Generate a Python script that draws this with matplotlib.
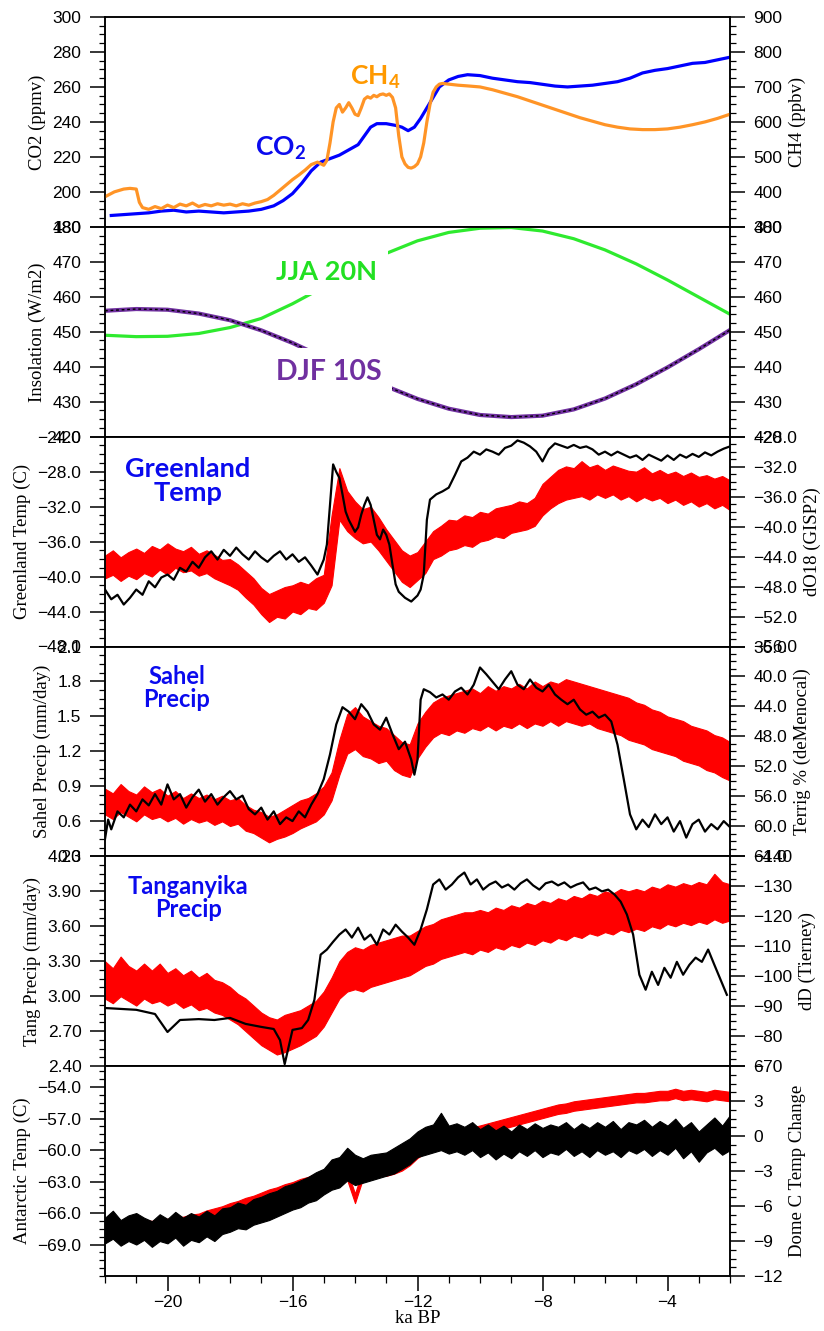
import numpy as np
import matplotlib
matplotlib.use("Agg")
import matplotlib.pyplot as plt
from matplotlib.ticker import FixedLocator, MultipleLocator, FuncFormatter

# ---------------- DATA ----------------
# Panel 1: CO2 (ppmv) and CH4 (ppbv)
co2_age = [-21.8, -21.4, -21.0, -20.6, -20.2, -19.8, -19.4, -19.0, -18.6, -18.2, -17.8, -17.4,
           -17.0, -16.6, -16.3, -16.0, -15.7, -15.4, -15.1, -14.8, -14.5, -14.2, -13.9, -13.7,
           -13.5, -13.3, -13.0, -12.7, -12.5, -12.3, -12.1, -11.9, -11.7, -11.5, -11.3, -11.0,
           -10.7, -10.4, -10.0, -9.6, -9.2, -8.8, -8.4, -8.0, -7.6, -7.2, -6.8, -6.4, -6.0,
           -5.6, -5.2, -4.8, -4.4, -4.0, -3.6, -3.2, -2.8, -2.4, -2.0]
co2_val = [186.5, 187, 187.5, 188, 189, 189.5, 188.5, 189, 188.5, 188, 188.5, 189,
           190, 192, 195, 199, 205, 212, 217, 219, 221, 224, 227, 232,
           237, 239, 239, 238, 237, 235, 237, 242, 248, 254, 260, 264,
           266, 267, 266.5, 265, 264, 263, 262.5, 261.5, 260.5, 260, 260.5, 261, 262,
           263, 265, 268, 269.5, 270.5, 272, 273.5, 274, 275.5, 277]
ch4_age = [-22.0, -21.7, -21.4, -21.2, -21.0, -20.9, -20.8, -20.6, -20.4, -20.2, -20.0, -19.8,
           -19.6, -19.4, -19.2, -19.0, -18.8, -18.6, -18.4, -18.2, -18.0, -17.8, -17.6, -17.4,
           -17.2, -17.0, -16.8, -16.6, -16.4, -16.2, -16.0, -15.8, -15.6, -15.4, -15.2, -15.0,
           -14.9, -14.8, -14.7, -14.6, -14.5, -14.4, -14.3, -14.2, -14.1, -14.0, -13.9, -13.8,
           -13.7, -13.6, -13.5, -13.4, -13.3, -13.2, -13.1, -13.0, -12.9, -12.8, -12.7, -12.6,
           -12.5, -12.4, -12.3, -12.2, -12.1, -12.0, -11.9, -11.8, -11.7, -11.6, -11.5, -11.4,
           -11.3, -11.2, -11.0, -10.7, -10.4, -10.0, -9.6, -9.2, -8.8, -8.4, -8.0, -7.6, -7.2,
           -6.8, -6.4, -6.0, -5.6, -5.2, -4.8, -4.4, -4.0, -3.6, -3.2, -2.8, -2.4, -2.0]
ch4_val = [386, 400, 408, 410, 408, 370, 355, 350, 358, 352, 362, 355,
           365, 360, 368, 358, 364, 360, 366, 362, 365, 360, 366, 362,
           368, 372, 378, 390, 405, 420, 435, 448, 462, 478, 485, 476,
           490, 540, 600, 640, 650, 628, 640, 655, 640, 622, 618, 640,
           665, 672, 668, 676, 672, 678, 680, 676, 680, 670, 640, 560,
           500, 480, 470, 468, 472, 480, 500, 540, 600, 650, 685, 700,
           708, 710, 708, 705, 703, 700, 692, 682, 672, 660, 648, 636, 624,
           612, 602, 592, 585, 580, 578, 578, 580, 585, 592, 600, 610, 622]

# Panel 2: insolation (W/m2)
insol_age = [-22, -21, -20, -19, -18, -17, -16, -15, -14, -13, -12, -11, -10, -9, -8, -7, -6, -5, -4, -3, -2]
jja20n = [449.0, 448.6, 448.7, 449.5, 451.2, 453.8, 458.0, 462.8, 467.8, 472.4, 476.0, 478.4,
          479.6, 479.8, 478.8, 476.6, 473.4, 469.4, 464.8, 459.9, 455.0]
djf10s = [456.0, 456.5, 456.3, 455.2, 453.3, 450.4, 446.8, 442.6, 438.4, 434.4, 430.8, 428.0,
          426.2, 425.6, 426.0, 427.8, 430.9, 435.0, 439.8, 445.0, 450.5]

# Model series (noisy bands) on a 0.25 ka grid, -22 ... -2
band_age = np.arange(-22.0, -1.999, 0.25)

greenland_lo = [-40.2, -39.8, -40.5, -39.9, -40.3, -39.6, -40.0, -39.2, -39.8, -39.0, -39.5, -39.3,
                -39.9, -39.6, -40.2, -40.6, -41.0, -41.5, -42.4, -43.2, -44.3, -45.2, -44.6, -44.8,
                -44.0, -44.3, -43.6, -43.8, -43.0, -41.0, -33.5, -34.8, -35.6, -36.2, -36.0, -37.0,
                -38.2, -39.4, -40.6, -41.2, -40.4, -39.6, -38.0, -37.6, -37.0, -36.8, -36.4, -36.6,
                -36.0, -35.8, -35.4, -35.6, -35.0, -34.8, -34.6, -34.2, -33.0, -32.2, -31.6, -31.2,
                -31.0, -30.8, -31.2, -30.6, -31.0, -30.6, -31.2, -30.8, -31.4, -30.9, -31.3, -31.0,
                -31.6, -31.2, -31.8, -31.4, -32.0, -31.6, -32.2, -31.8, -32.4]
greenland_hi = [-37.6, -37.0, -37.8, -37.2, -36.8, -37.3, -36.5, -36.9, -36.2, -36.8, -37.1, -36.6,
                -37.4, -37.0, -37.5, -38.1, -38.0, -38.6, -39.4, -40.2, -41.3, -42.0, -41.6, -41.2,
                -41.0, -40.6, -40.9, -40.2, -39.8, -33.0, -27.6, -30.2, -31.4, -32.3, -32.0, -33.2,
                -34.6, -35.8, -37.0, -37.6, -37.2, -36.0, -34.8, -34.2, -33.5, -33.6, -33.0, -33.2,
                -32.6, -32.8, -32.2, -32.0, -31.8, -31.4, -31.6, -31.0, -29.4, -28.6, -27.8, -27.4,
                -27.6, -26.8, -27.5, -27.2, -27.8, -27.3, -27.6, -27.9, -28.0, -27.5, -28.2, -27.8,
                -28.3, -28.0, -28.5, -28.1, -28.6, -28.4, -28.8, -28.5, -29.0]

sahel_lo = [0.66, 0.62, 0.68, 0.64, 0.60, 0.66, 0.62, 0.64, 0.60, 0.63, 0.58, 0.62,
            0.59, 0.61, 0.57, 0.60, 0.56, 0.58, 0.52, 0.50, 0.46, 0.42, 0.45, 0.47,
            0.50, 0.54, 0.57, 0.60, 0.66, 0.78, 1.00, 1.18, 1.22, 1.16, 1.14, 1.10,
            1.12, 1.04, 1.00, 0.98, 1.14, 1.24, 1.32, 1.36, 1.34, 1.38, 1.36, 1.40,
            1.38, 1.42, 1.38, 1.42, 1.40, 1.44, 1.40, 1.44, 1.42, 1.46, 1.42, 1.46,
            1.44, 1.42, 1.44, 1.40, 1.38, 1.36, 1.34, 1.30, 1.28, 1.26, 1.22, 1.20,
            1.18, 1.16, 1.12, 1.10, 1.08, 1.04, 1.02, 0.98, 0.95]
sahel_hi = [0.88, 0.84, 0.92, 0.86, 0.83, 0.90, 0.85, 0.88, 0.82, 0.86, 0.80, 0.84,
            0.80, 0.83, 0.79, 0.82, 0.78, 0.80, 0.74, 0.70, 0.68, 0.64, 0.66, 0.70,
            0.74, 0.78, 0.80, 0.84, 0.90, 1.02, 1.30, 1.52, 1.58, 1.50, 1.46, 1.42,
            1.40, 1.34, 1.28, 1.26, 1.44, 1.54, 1.62, 1.66, 1.68, 1.70, 1.72, 1.74,
            1.70, 1.76, 1.72, 1.76, 1.74, 1.78, 1.74, 1.80, 1.76, 1.80, 1.78, 1.82,
            1.80, 1.78, 1.76, 1.74, 1.72, 1.70, 1.68, 1.66, 1.62, 1.60, 1.56, 1.54,
            1.50, 1.48, 1.46, 1.42, 1.40, 1.38, 1.34, 1.32, 1.28]

tang_lo = [2.98, 2.94, 3.00, 2.96, 2.92, 2.98, 2.94, 2.96, 2.92, 2.95, 2.90, 2.93,
           2.88, 2.90, 2.86, 2.84, 2.80, 2.76, 2.70, 2.64, 2.58, 2.54, 2.50, 2.52,
           2.55, 2.58, 2.62, 2.66, 2.74, 2.86, 2.98, 3.04, 3.06, 3.04, 3.08, 3.10,
           3.12, 3.14, 3.16, 3.18, 3.22, 3.26, 3.28, 3.32, 3.34, 3.36, 3.38, 3.36,
           3.40, 3.38, 3.42, 3.40, 3.44, 3.42, 3.46, 3.44, 3.48, 3.46, 3.50, 3.48,
           3.52, 3.50, 3.54, 3.52, 3.55, 3.53, 3.57, 3.55, 3.58, 3.56, 3.60, 3.58,
           3.62, 3.60, 3.63, 3.61, 3.64, 3.62, 3.66, 3.63, 3.65]
tang_hi = [3.30, 3.24, 3.34, 3.26, 3.22, 3.28, 3.22, 3.28, 3.20, 3.24, 3.18, 3.22,
           3.16, 3.20, 3.14, 3.12, 3.08, 3.02, 2.98, 2.92, 2.86, 2.82, 2.80, 2.84,
           2.86, 2.88, 2.92, 2.96, 3.04, 3.16, 3.30, 3.38, 3.42, 3.40, 3.44, 3.46,
           3.48, 3.50, 3.52, 3.52, 3.56, 3.60, 3.62, 3.66, 3.68, 3.70, 3.72, 3.72,
           3.74, 3.72, 3.76, 3.74, 3.78, 3.76, 3.80, 3.78, 3.82, 3.80, 3.84, 3.82,
           3.86, 3.84, 3.88, 3.86, 3.90, 3.88, 3.92, 3.90, 3.92, 3.90, 3.94, 3.92,
           3.96, 3.94, 3.97, 3.95, 3.98, 3.96, 4.05, 3.98, 3.96]

antarctic_mid = [-67.3, -67.4, -67.2, -67.3, -67.2, -67.1, -67.2, -67.0, -67.0, -66.9, -66.8, -66.6,
                 -66.5, -66.2, -66.0, -65.8, -65.5, -65.3, -65.0, -64.8, -64.5, -64.2, -64.0, -63.7,
                 -63.5, -63.2, -63.0, -62.7, -62.5, -62.3, -62.2, -62.4, -64.6, -62.3, -62.2, -62.0,
                 -62.0, -61.8, -61.5, -61.0, -60.3, -59.8, -59.4, -59.0, -58.8, -58.6, -58.5, -58.3,
                 -58.1, -57.9, -57.7, -57.5, -57.3, -57.1, -56.9, -56.7, -56.5, -56.3, -56.1, -56.0,
                 -55.8, -55.7, -55.6, -55.5, -55.4, -55.3, -55.2, -55.1, -55.0, -55.0, -54.9, -54.8,
                 -54.8, -54.6, -54.8, -54.7, -54.8, -54.9, -54.7, -54.8, -54.9]
antarctic_halfwidth = 0.45

domec_lo = [-9.2, -8.8, -9.4, -9.0, -9.3, -8.9, -9.5, -9.0, -9.2, -8.7, -9.4, -8.9,
            -9.1, -8.6, -9.0, -8.4, -8.2, -7.9, -8.0, -7.6, -7.4, -7.2, -6.9, -6.6,
            -6.3, -6.1, -5.7, -5.5, -5.0, -4.6, -4.4, -3.8, -4.2, -4.0, -3.8, -3.6,
            -3.4, -3.2, -2.8, -2.4, -1.8, -1.6, -1.4, -1.2, -1.5, -1.3, -1.6, -1.2,
            -1.8, -1.4, -2.0, -1.5, -1.9, -1.3, -1.7, -1.2, -1.8, -1.4, -1.6, -1.1,
            -1.7, -1.3, -1.8, -1.2, -1.6, -1.3, -1.8, -1.2, -1.5, -1.1, -1.7, -1.2,
            -1.6, -1.0, -1.9, -1.3, -2.2, -1.4, -1.0, -1.6, -1.2]
domec_hi = [-7.0, -6.4, -7.2, -6.8, -6.6, -7.0, -7.3, -6.7, -7.1, -6.5, -7.0, -6.6,
            -6.9, -6.4, -6.8, -6.2, -6.1, -5.7, -5.9, -5.4, -5.2, -4.9, -4.7, -4.3,
            -4.1, -3.8, -3.5, -3.1, -2.8, -2.0, -1.8, -1.0, -1.6, -1.9, -1.6, -1.5,
            -1.4, -1.0, -0.6, -0.2, 0.4, 0.8, 1.0, 2.0, 0.9, 1.1, 0.8, 1.2,
            0.6, 1.0, 0.5, 0.9, 0.4, 1.0, 0.6, 1.1, 0.7, 1.0, 0.8, 1.2,
            0.6, 1.1, 0.7, 1.2, 0.8, 1.3, 0.6, 1.2, 1.0, 1.4, 0.8, 1.3,
            0.9, 1.5, 0.7, 1.2, 0.4, 1.0, 1.6, 0.9, 1.8]

# Proxy records (black)
gisp2_age = [-22.0, -21.8, -21.6, -21.4, -21.2, -21.0, -20.8, -20.6, -20.4, -20.2, -20.0, -19.8,
             -19.6, -19.4, -19.2, -19.0, -18.8, -18.6, -18.4, -18.2, -18.0, -17.8, -17.6, -17.4,
             -17.2, -17.0, -16.8, -16.6, -16.4, -16.2, -16.0, -15.8, -15.6, -15.4, -15.2, -15.0,
             -14.9, -14.8, -14.7, -14.6, -14.5, -14.4, -14.3, -14.2, -14.0, -13.9, -13.8, -13.7,
             -13.6, -13.5, -13.4, -13.3, -13.2, -13.1, -13.0, -12.9, -12.8, -12.7, -12.6, -12.4,
             -12.2, -12.0, -11.9, -11.8, -11.7, -11.6, -11.4, -11.2, -11.0, -10.8, -10.6, -10.4,
             -10.2, -10.0, -9.8, -9.6, -9.4, -9.2, -9.0, -8.8, -8.6, -8.4, -8.2, -8.0, -7.8,
             -7.6, -7.4, -7.2, -7.0, -6.8, -6.6, -6.4, -6.2, -6.0, -5.8, -5.6, -5.4, -5.2,
             -5.0, -4.8, -4.6, -4.4, -4.2, -4.0, -3.8, -3.6, -3.4, -3.2, -3.0, -2.8, -2.6,
             -2.4, -2.2, -2.0]
gisp2_d18o = [-48.4, -49.7, -49.1, -50.4, -49.5, -48.4, -49.1, -47.3, -48.1, -46.8, -46.4, -47.1,
              -45.5, -46.0, -44.7, -45.5, -44.1, -43.3, -44.4, -43.1, -43.9, -42.8, -43.7, -44.4,
              -43.3, -44.1, -44.7, -43.9, -43.3, -44.4, -43.7, -44.7, -44.1, -45.2, -46.4, -44.4,
              -42.4, -37.1, -31.7, -32.7, -33.5, -35.7, -38.0, -39.1, -40.7, -40.1, -38.4, -37.1,
              -36.1, -37.1, -39.1, -41.1, -41.7, -40.4, -41.1, -42.4, -45.1, -47.7, -48.7, -49.5,
              -50.0, -49.2, -48.4, -46.4, -39.1, -36.4, -35.7, -35.3, -34.8, -33.1, -31.3, -30.8,
              -30.0, -30.4, -29.7, -30.0, -30.4, -29.5, -29.2, -28.5, -28.8, -29.3, -30.0, -31.3, -29.7,
              -28.9, -29.2, -29.5, -29.1, -29.5, -29.3, -29.7, -30.4, -30.0, -30.5, -30.0, -30.4, -30.8,
              -30.5, -31.1, -30.4, -30.8, -31.2, -30.5, -31.1, -30.4, -30.8, -30.3, -30.7, -30.1, -30.5,
              -30.0, -29.6, -29.3]

terrig_age = [-22.0, -21.9, -21.8, -21.6, -21.4, -21.2, -21.0, -20.8, -20.6, -20.4, -20.2, -20.0,
              -19.8, -19.6, -19.4, -19.2, -19.0, -18.8, -18.6, -18.4, -18.2, -18.0, -17.8, -17.6,
              -17.4, -17.2, -17.0, -16.8, -16.6, -16.4, -16.2, -16.0, -15.8, -15.6, -15.4, -15.2,
              -15.0, -14.8, -14.6, -14.4, -14.2, -14.0, -13.8, -13.6, -13.4, -13.2, -13.0, -12.8,
              -12.6, -12.4, -12.2, -12.1, -12.0, -11.9, -11.8, -11.6, -11.4, -11.2, -11.0, -10.8,
              -10.6, -10.4, -10.2, -10.0, -9.8, -9.6, -9.4, -9.2, -9.0, -8.8, -8.6, -8.4, -8.2,
              -8.0, -7.8, -7.6, -7.4, -7.2, -7.0, -6.8, -6.6, -6.4, -6.2, -6.0, -5.8, -5.6, -5.4,
              -5.2, -5.0, -4.8, -4.6, -4.4, -4.2, -4.0, -3.8, -3.6, -3.4, -3.2, -3.0, -2.8, -2.6,
              -2.4, -2.2, -2.0]
terrig_pct = [61.7, 59.1, 60.4, 58.0, 58.8, 57.1, 58.0, 56.4, 57.2, 55.7, 57.1, 54.4,
              56.4, 55.7, 57.5, 56.1, 55.1, 56.7, 55.7, 57.1, 56.1, 55.3, 56.4, 55.9,
              57.7, 58.4, 57.5, 59.1, 58.0, 59.7, 58.8, 59.3, 58.0, 58.8, 57.1, 55.7,
              53.7, 50.4, 46.4, 44.1, 44.7, 45.7, 43.7, 44.7, 46.4, 47.1, 45.5, 47.7,
              49.7, 48.7, 51.1, 53.1, 51.1, 43.1, 41.7, 42.1, 42.8, 42.4, 43.1, 42.0,
              41.5, 42.4, 41.1, 38.8, 39.7, 40.7, 41.7, 40.4, 39.3, 41.1, 41.7, 40.4, 41.5,
              42.0, 41.1, 42.4, 43.1, 43.7, 43.1, 44.4, 45.1, 44.7, 45.5, 45.1, 46.0, 49.1, 53.7,
              58.4, 60.4, 59.1, 60.1, 58.4, 59.7, 58.8, 60.7, 59.3, 61.5, 59.7, 59.1, 60.7, 59.7,
              60.4, 59.3, 60.1]

tierney_age = [-22.0, -21.0, -20.4, -20.0, -19.6, -19.0, -18.5, -18.0, -17.5, -17.0, -16.6, -16.4,
               -16.25, -16.0, -15.7, -15.5, -15.3, -15.1, -14.9, -14.7, -14.5, -14.3, -14.1, -13.9,
               -13.7, -13.5, -13.3, -13.1, -12.9, -12.7, -12.5, -12.3, -12.1, -11.9, -11.7, -11.5,
               -11.3, -11.1, -10.9, -10.7, -10.5, -10.3, -10.1, -9.9, -9.7, -9.5, -9.3, -9.1, -8.9,
               -8.7, -8.5, -8.3, -8.1, -7.9, -7.7, -7.5, -7.3, -7.1, -6.9, -6.7, -6.5, -6.3, -6.1,
               -5.9, -5.7, -5.5, -5.3, -5.1, -4.9, -4.7, -4.5, -4.3, -4.1, -3.9, -3.7, -3.5, -3.3,
               -3.1, -2.9, -2.7, -2.5, -2.3, -2.1]
tierney_dd = [-89.4, -88.8, -87.4, -81.4, -85.4, -85.7, -85.4, -86.1, -84.1, -83.1, -82.4, -78.7,
              -70.7, -82.1, -82.7, -85.4, -92.1, -107.2, -108.9, -111.5, -113.9, -115.6, -112.9, -116.2,
              -112.2, -113.9, -110.5, -115.6, -113.9, -117.2, -114.9, -112.9, -110.5, -115.6, -122.3, -130.6,
              -132.3, -128.9, -130.6, -133.0, -134.6, -130.6, -132.3, -128.9, -130.6, -131.6, -129.6, -130.6, -128.9,
              -131.0, -132.3, -130.3, -128.9, -131.0, -131.6, -130.3, -131.3, -129.6, -130.6, -131.3, -128.9, -129.6, -128.3,
              -128.9, -127.3, -124.9, -120.6, -113.9, -100.5, -95.5, -101.5, -97.1, -102.8, -99.5, -104.8, -100.5, -103.8,
              -106.2, -104.8, -108.9, -103.8, -98.8, -93.8]

# Axis ranges and ticks
co2_ticks = [180, 200, 220, 240, 260, 280, 300]
ch4_ticks = [300, 400, 500, 600, 700, 800, 900]
insol_ticks = [420, 430, 440, 450, 460, 470, 480]
greenland_ticks = [-48, -44, -40, -36, -32, -28, -24]
d18o_ticks = [-56, -52, -48, -44, -40, -36, -32, -28]
sahel_ticks = [0.3, 0.6, 0.9, 1.2, 1.5, 1.8, 2.1]
terrig_ticks = [36, 40, 44, 48, 52, 56, 60, 64]
tang_ticks = [2.4, 2.7, 3.0, 3.3, 3.6, 3.9, 4.2]
dd_ticks = [-140, -130, -120, -110, -100, -90, -80, -70]
antarctic_ticks = [-69, -66, -63, -60, -57, -54]
domec_ticks = [-12, -9, -6, -3, 0, 3, 6]
age_ticks = [-20, -16, -12, -8, -4]

# ---------------- FIGURE ----------------
plt.rcParams['mathtext.fontset'] = 'custom'
plt.rcParams['mathtext.rm'] = 'Lato'
plt.rcParams['mathtext.bf'] = 'Lato:bold'

W, Hpx = 824, 1331
fig = plt.figure(figsize=(W / 100, Hpx / 100), dpi=100)
x0, x1 = 105, 730
top0, bot = 17, 1276
ph = (bot - top0) / 6.0

TICKFONT = dict(family='Liberation Sans', size=12.5)
LABFONT = dict(family='Liberation Serif', size=13.5)
annot_font = dict(family='Lato', weight='bold', size=17)


def mkfmt(f):
    return FuncFormatter(lambda v, p: (f % v).replace('-', '\u2212'))


def style_y(ax, ticks, fmt, minor):
    ax.yaxis.set_major_locator(FixedLocator(ticks))
    ax.yaxis.set_minor_locator(MultipleLocator(minor))
    ax.yaxis.set_major_formatter(mkfmt(fmt))
    ax.tick_params(axis='y', which='major', direction='out', length=11, width=1.1,
                   pad=6, labelsize=TICKFONT['size'])
    ax.tick_params(axis='y', which='minor', direction='out', length=4.5, width=0.9)
    for lab in ax.get_yticklabels():
        lab.set_family(TICKFONT['family'])


axes = []
twins = []
for i in range(6):
    top = top0 + i * ph
    ax = fig.add_axes([x0 / W, 1 - (top + ph) / Hpx, (x1 - x0) / W, ph / Hpx])
    ax.set_xlim(-22, -2)
    for s in ax.spines.values():
        s.set_linewidth(1.1)
    ax2 = ax.twinx()
    for s in ax2.spines.values():
        s.set_linewidth(1.1)
    if i < 5:
        ax.tick_params(axis='x', which='both', bottom=False, top=False, labelbottom=False)
    axes.append(ax)
    twins.append(ax2)

ORANGE = '#FF9426'
BLUE = '#0000FF'
GREEN = '#2EEA2E'
PURPLE = '#7030A0'
TXTBLUE = '#0A0AEE'
LP = 4.5

# Panel 1
ax, ax2 = axes[0], twins[0]
ax.plot(co2_age, co2_val, color=BLUE, lw=2.3)
ax.set_ylim(180, 300)
ax2.plot(ch4_age, ch4_val, color=ORANGE, lw=2.3)
ax2.set_ylim(300, 900)
style_y(ax, co2_ticks, '%d', 5)
style_y(ax2, ch4_ticks, '%d', 25)
ax.set_ylabel('CO2 (ppmv)', labelpad=LP, **LABFONT)
ax2.set_ylabel('CH4 (ppbv)', labelpad=LP, **LABFONT)
ax2.text(0.24, 0.375, r'$\mathbf{CO}_\mathbf{2}$', transform=ax2.transAxes, color=TXTBLUE,
         ha='left', va='center', fontsize=19)
ax2.text(0.392, 0.715, r'$\mathbf{CH}_\mathbf{4}$', transform=ax2.transAxes, color='#FF9900',
         ha='left', va='center', fontsize=19)

# Panel 2
ax, ax2 = axes[1], twins[1]
ax.plot(insol_age, jja20n, color=GREEN, lw=2.3, zorder=2)
ax.plot(insol_age, djf10s, color=PURPLE, lw=3.0, zorder=2)
ax.plot(insol_age, djf10s, color='black', lw=1.0, ls=(0, (2, 2)), zorder=2)
ax.set_ylim(420, 480)
ax2.set_ylim(420, 480)
style_y(ax, insol_ticks, '%d', 2.5)
style_y(ax2, insol_ticks, '%d', 2.5)
ax.set_ylabel('Insolation (W/m2)', labelpad=LP, **LABFONT)
ax.text(0.273, 0.785, 'JJA 20N', transform=ax.transAxes, color='#22E022', ha='left', va='center',
        zorder=5, bbox=dict(facecolor='white', edgecolor='none', pad=8),
        family='Lato', weight='bold', size=19.5)
ax.text(0.273, 0.31, 'DJF 10S', transform=ax.transAxes, color=PURPLE, ha='left', va='center',
        zorder=5, bbox=dict(facecolor='white', edgecolor='none', pad=8),
        family='Lato', weight='bold', size=20.5)

# Panel 3
ax, ax2 = axes[2], twins[2]
ax.fill_between(band_age, greenland_lo, greenland_hi, color='red', lw=0.8)
ax.set_ylim(-48, -24)
ax2.plot(gisp2_age, gisp2_d18o, color='black', lw=1.6)
ax2.set_ylim(-56, -28)
style_y(ax, greenland_ticks, '%.1f', 1)
style_y(ax2, d18o_ticks, '%.1f', 1)
ax.set_ylabel('Greenland Temp (C)', labelpad=LP, **LABFONT)
ax2.set_ylabel('dO18 (GISP2)', labelpad=LP, **LABFONT)
ax2.text(0.133, 0.79, 'Greenland\nTemp', transform=ax2.transAxes, color=TXTBLUE, ha='center',
         va='center', ma='center', linespacing=1.0, family='Lato', weight='bold', size=19.5)

# Panel 4
ax, ax2 = axes[3], twins[3]
ax.fill_between(band_age, sahel_lo, sahel_hi, color='red', lw=0.8)
ax.set_ylim(0.3, 2.1)
ax2.plot(terrig_age, terrig_pct, color='black', lw=1.6)
ax2.set_ylim(64, 36)
style_y(ax, sahel_ticks, '%.1f', 0.075)
style_y(ax2, terrig_ticks, '%.1f', 1)
ax.set_ylabel('Sahel Precip (mm/day)', labelpad=LP, **LABFONT)
ax2.set_ylabel('Terrig % (deMenocal)', labelpad=LP, **LABFONT)
ax2.text(0.115, 0.80, 'Sahel\nPrecip', transform=ax2.transAxes, color=TXTBLUE, ha='center',
         va='center', ma='center', linespacing=1.0, **annot_font)

# Panel 5
ax, ax2 = axes[4], twins[4]
ax.fill_between(band_age, tang_lo, tang_hi, color='red', lw=0.8)
ax.set_ylim(2.4, 4.2)
ax2.plot(tierney_age, tierney_dd, color='black', lw=1.6)
ax2.set_ylim(-70, -140)
style_y(ax, tang_ticks, '%.2f', 0.075)
style_y(ax2, dd_ticks, '%d', 2.5)
ax.set_ylabel('Tang Precip (mm/day)', labelpad=LP, **LABFONT)
ax2.set_ylabel('dD (Tierney)', labelpad=LP, **LABFONT)
ax2.text(0.133, 0.80, 'Tanganyika\nPrecip', transform=ax2.transAxes, color=TXTBLUE, ha='center',
         va='center', ma='center', linespacing=1.0, **annot_font)

# Panel 6
ax, ax2 = axes[5], twins[5]
amid = np.array(antarctic_mid)
ax.fill_between(band_age, amid - antarctic_halfwidth, amid + antarctic_halfwidth, color='red', lw=0.8)
ax.set_ylim(-72, -52)
ax2.fill_between(band_age, domec_lo, domec_hi, color='black', lw=0.8)
ax2.set_ylim(-12, 6)
style_y(ax, antarctic_ticks, '%.1f', 0.75)
style_y(ax2, domec_ticks, '%d', 0.75)
ax.set_ylabel('Antarctic Temp (C)', labelpad=LP, **LABFONT)
ax2.set_ylabel('Dome C Temp Change', labelpad=LP, **LABFONT)

ax.xaxis.set_major_locator(FixedLocator(age_ticks))
ax.xaxis.set_minor_locator(MultipleLocator(1))
ax.xaxis.set_major_formatter(mkfmt('%d'))
ax.tick_params(axis='x', which='major', direction='out', length=11, width=1.1, pad=3,
               labelsize=TICKFONT['size'])
ax.tick_params(axis='x', which='minor', direction='out', length=5, width=0.9)
for lab in ax.get_xticklabels():
    lab.set_family(TICKFONT['family'])
ax.set_xlabel('ka BP', labelpad=0, **LABFONT)

fig.savefig('out.png', dpi=100)
